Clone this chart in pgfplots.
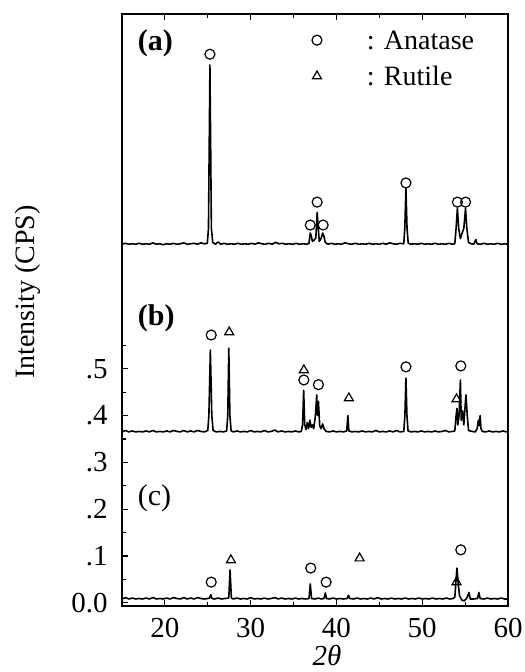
\documentclass[border=0pt]{standalone}
\usepackage{fontspec}
\setmainfont{Liberation Serif}
\usepackage{pgfplots}
\pgfplotsset{compat=1.18}
\begin{document}
\fontsize{14}{17}\selectfont
\begin{tikzpicture}
\begin{axis}[
  scale only axis,
  width=193pt, height=296pt,
  xmin=15, xmax=60, ymin=-0.007, ymax=1.258,
  axis line style={line width=0.8pt},
  xtick={20,30,40,50,60},
  minor xtick={25,35,45,55},
  ytick={0,0.1,0.2,0.3,0.4,0.5},
  yticklabels={0.0,.1,.2,.3,.4,.5},
  minor ytick={0.05,0.15,0.25,0.35,0.45,0.55},
  xtick pos=both, ytick pos=left,
  tick align=inside,
  major tick length=3pt, minor tick length=1.8pt,
  tick style={line width=0.6pt, black},
  /pgf/number format/assume math mode=true,
  tick label style={font=\fontsize{14.5}{17}\selectfont},
  x tick label style={anchor=center, yshift=-11pt},
  y tick label style={anchor=east, inner sep=0pt, xshift=-7pt},
  xlabel={\textit{2θ}},
  xlabel style={at={(axis description cs:0.531,-0.084)}, anchor=center, font=\fontsize{14.5}{17}\selectfont},
  ylabel={Intensity (CPS)},
  ylabel style={at={(axis description cs:-0.2435,0.53)}, anchor=center, rotate=0},
  clip=false,
]
% trace (a)
\addplot[black, line width=0.8pt, line join=round] coordinates {
(15.0,0.766)(15.4,0.768)(15.8,0.766)(16.2,0.767)(16.6,0.766)(17.0,0.768)(17.4,0.766)(17.8,0.767)
(18.2,0.766)(18.6,0.769)(19.0,0.766)(19.4,0.767)(19.8,0.765)(20.2,0.767)(20.6,0.766)(21.0,0.768)
(21.4,0.766)(21.8,0.767)(22.2,0.769)(22.6,0.766)(23.0,0.767)(23.4,0.768)(23.8,0.766)(24.2,0.769)
(24.6,0.767)(24.95,0.768)(25.08,0.80)(25.17,0.98)(25.25,1.149)(25.33,0.99)(25.42,0.80)(25.58,0.770)
(25.9,0.766)(26.2,0.771)(26.5,0.766)(26.9,0.768)(27.3,0.766)(27.7,0.767)(28.1,0.766)(28.5,0.768)
(28.9,0.766)(29.3,0.767)(29.7,0.766)(30.1,0.768)(30.5,0.766)(30.9,0.769)(31.3,0.767)(31.7,0.766)
(32.1,0.768)(32.5,0.766)(32.9,0.770)(33.3,0.767)(33.7,0.768)(34.1,0.766)(34.5,0.767)(34.9,0.766)
(35.3,0.768)(35.7,0.766)(36.1,0.767)(36.5,0.766)(36.8,0.768)(36.95,0.790)(37.05,0.785)(37.2,0.772)
(37.4,0.775)(37.6,0.780)(37.75,0.834)(37.88,0.800)(38.0,0.772)(38.2,0.778)(38.4,0.790)(38.55,0.782)
(38.7,0.770)(39.0,0.766)(39.4,0.768)(39.8,0.766)(40.2,0.767)(40.6,0.766)(41.0,0.769)(41.4,0.767)
(41.8,0.766)(42.2,0.768)(42.6,0.766)(43.0,0.767)(43.4,0.766)(43.8,0.768)(44.2,0.766)(44.6,0.767)
(45.0,0.766)(45.4,0.768)(45.8,0.766)(46.2,0.769)(46.6,0.767)(47.0,0.766)(47.4,0.768)(47.85,0.767)
(47.97,0.800)(48.1,0.886)(48.23,0.800)(48.37,0.768)(48.7,0.766)(49.1,0.767)(49.5,0.766)(49.9,0.768)
(50.3,0.766)(50.7,0.767)(51.1,0.766)(51.5,0.768)(51.9,0.766)(52.3,0.767)(52.7,0.766)(53.1,0.768)
(53.5,0.766)(53.8,0.767)(53.95,0.800)(54.1,0.843)(54.25,0.800)(54.45,0.778)(54.65,0.790)(54.85,0.800)
(55.05,0.843)(55.2,0.800)(55.4,0.770)(55.7,0.767)(56.0,0.766)(56.25,0.776)(56.4,0.767)(56.8,0.766)
(57.2,0.768)(57.6,0.766)(58.0,0.767)(58.4,0.766)(58.8,0.768)(59.2,0.766)(59.6,0.767)(60.0,0.766)
};
% trace (b)
\addplot[black, line width=0.8pt, line join=round] coordinates {
(15.0,0.365)(15.4,0.368)(15.8,0.365)(16.2,0.367)(16.6,0.365)(17.0,0.366)(17.4,0.365)(17.8,0.367)
(18.2,0.365)(18.6,0.368)(19.0,0.365)(19.4,0.366)(19.8,0.365)(20.2,0.367)(20.6,0.365)(21.0,0.368)
(21.4,0.366)(21.8,0.365)(22.2,0.368)(22.6,0.365)(23.0,0.367)(23.4,0.365)(23.8,0.368)(24.2,0.366)
(24.6,0.365)(25.0,0.368)(25.13,0.40)(25.3,0.54)(25.47,0.40)(25.62,0.368)(26.0,0.365)(26.4,0.366)
(26.8,0.365)(27.2,0.367)(27.33,0.40)(27.45,0.544)(27.58,0.40)(27.72,0.367)(28.0,0.365)(28.4,0.367)
(28.8,0.365)(29.2,0.366)(29.6,0.365)(30.0,0.368)(30.4,0.365)(30.8,0.366)(31.2,0.365)(31.6,0.368)
(32.0,0.365)(32.4,0.366)(32.8,0.369)(33.2,0.365)(33.6,0.367)(34.0,0.365)(34.4,0.366)(34.8,0.365)
(35.2,0.367)(35.6,0.365)(35.9,0.366)(36.05,0.380)(36.18,0.454)(36.3,0.380)(36.45,0.370)(36.6,0.385)
(36.75,0.372)(36.9,0.390)(37.05,0.375)(37.2,0.380)(37.35,0.372)(37.55,0.400)(37.7,0.444)(37.8,0.400)
(37.9,0.430)(38.05,0.378)(38.2,0.372)(38.4,0.382)(38.55,0.372)(38.8,0.366)(39.2,0.365)(39.6,0.367)
(40.0,0.365)(40.4,0.366)(40.8,0.365)(41.2,0.367)(41.33,0.400)(41.45,0.367)(41.8,0.365)(42.2,0.366)
(42.6,0.365)(43.0,0.367)(43.4,0.365)(43.8,0.366)(44.2,0.365)(44.6,0.368)(45.0,0.365)(45.4,0.366)
(45.8,0.365)(46.2,0.367)(46.6,0.365)(47.0,0.368)(47.4,0.365)(47.85,0.366)(47.98,0.400)(48.1,0.480)
(48.22,0.400)(48.35,0.367)(48.7,0.365)(49.1,0.366)(49.5,0.365)(49.9,0.367)(50.3,0.365)(50.7,0.366)
(51.1,0.365)(51.5,0.367)(51.9,0.365)(52.3,0.366)(52.7,0.368)(53.1,0.365)(53.5,0.366)(53.8,0.367)
(53.95,0.400)(54.05,0.415)(54.15,0.380)(54.3,0.400)(54.45,0.476)(54.55,0.390)(54.7,0.410)(54.85,0.380)
(55.0,0.420)(55.1,0.444)(55.25,0.400)(55.4,0.368)(55.8,0.366)(56.2,0.365)(56.4,0.372)(56.55,0.390)
(56.65,0.378)(56.75,0.400)(56.85,0.372)(57.0,0.366)(57.4,0.365)(57.8,0.367)(58.2,0.365)(58.6,0.366)
(59.0,0.365)(59.4,0.367)(59.8,0.365)(60.0,0.365)
};
% trace (c)
\addplot[black, line width=0.8pt, line join=round] coordinates {
(15.0,0.008)(15.4,0.011)(15.8,0.008)(16.2,0.010)(16.6,0.008)(17.0,0.009)(17.4,0.008)(17.8,0.010)
(18.2,0.008)(18.6,0.011)(19.0,0.008)(19.4,0.009)(19.8,0.008)(20.2,0.010)(20.6,0.008)(21.0,0.011)
(21.4,0.009)(21.8,0.008)(22.2,0.011)(22.6,0.008)(23.0,0.010)(23.4,0.008)(23.8,0.011)(24.2,0.009)
(24.6,0.008)(25.0,0.009)(25.2,0.010)(25.35,0.017)(25.5,0.009)(25.8,0.008)(26.2,0.010)(26.6,0.008)
(27.0,0.009)(27.45,0.010)(27.6,0.070)(27.75,0.010)(28.0,0.008)(28.4,0.010)(28.8,0.008)(29.2,0.009)
(29.6,0.008)(30.0,0.011)(30.4,0.008)(30.8,0.009)(31.2,0.008)(31.6,0.010)(32.0,0.008)(32.4,0.009)
(32.8,0.011)(33.2,0.008)(33.6,0.010)(34.0,0.008)(34.4,0.009)(34.8,0.008)(35.2,0.010)(35.6,0.008)
(36.0,0.009)(36.4,0.008)(36.8,0.009)(36.95,0.040)(37.1,0.009)(37.5,0.008)(37.9,0.010)(38.2,0.008)
(38.55,0.009)(38.7,0.021)(38.85,0.009)(39.2,0.008)(39.6,0.010)(40.0,0.008)(40.4,0.009)(40.8,0.008)
(41.25,0.009)(41.4,0.016)(41.55,0.009)(42.0,0.008)(42.4,0.010)(42.8,0.008)(43.2,0.009)(43.6,0.008)
(44.0,0.010)(44.4,0.008)(44.8,0.011)(45.2,0.008)(45.6,0.009)(46.0,0.008)(46.4,0.010)(46.8,0.008)
(47.2,0.009)(47.6,0.008)(48.0,0.010)(48.4,0.008)(48.8,0.009)(49.2,0.008)(49.6,0.010)(50.0,0.008)
(50.4,0.009)(50.8,0.008)(51.2,0.010)(51.6,0.008)(52.0,0.009)(52.4,0.008)(52.8,0.010)(53.2,0.008)
(53.6,0.009)(53.8,0.012)(53.95,0.050)(54.05,0.074)(54.2,0.040)(54.35,0.015)(54.6,0.006)(54.9,0.004)
(55.2,0.010)(55.45,0.022)(55.6,0.008)(56.0,0.008)(56.45,0.009)(56.6,0.022)(56.75,0.009)(57.2,0.008)
(57.6,0.010)(58.0,0.008)(58.4,0.009)(58.8,0.008)(59.2,0.010)(59.6,0.008)(60.0,0.008)
};
% anatase marks
\addplot[only marks, mark=o, mark size=2.5pt, mark options={line width=0.6pt, black}] coordinates {
(37.73,1.202)
(25.25,1.172)(36.95,0.807)(38.45,0.807)(37.75,0.856)(48.1,0.897)(54.1,0.856)(55.05,0.856)
(25.4,0.572)(36.2,0.476)(37.9,0.466)(48.1,0.504)(54.5,0.506)
(25.4,0.044)(37.0,0.074)(38.8,0.044)(54.5,0.113)
};
% rutile marks
\addplot[only marks, mark=triangle, mark size=2.6pt, mark options={line width=0.6pt, black}] coordinates {
(37.73,1.125)
(27.5,0.578)(36.2,0.497)(41.45,0.437)(54.0,0.435)
(27.7,0.091)(42.7,0.095)(54.0,0.044)
};
\node[anchor=west, inner sep=0pt] at (axis cs:43.5,1.202) {: Anatase};
\node[anchor=west, inner sep=0pt] at (axis cs:43.5,1.125) {: Rutile};
\node[anchor=west, inner sep=0pt, font=\fontsize{15}{18}\selectfont\bfseries] at (axis cs:16.8,1.196) {(a)};
\node[anchor=west, inner sep=0pt, font=\fontsize{15}{18}\selectfont\bfseries] at (axis cs:16.8,0.608) {(b)};
\node[anchor=west, inner sep=0pt, font=\fontsize{15}{18}\selectfont] at (axis cs:16.8,0.224) {(c)};
\coordinate (bl) at (rel axis cs:0,0);
\coordinate (tr) at (rel axis cs:1,1);
\end{axis}
\pgfresetboundingbox
\path ([xshift=-61pt,yshift=-33pt]bl) rectangle ([xshift=8.5pt,yshift=7pt]tr);
\end{tikzpicture}
\end{document}
